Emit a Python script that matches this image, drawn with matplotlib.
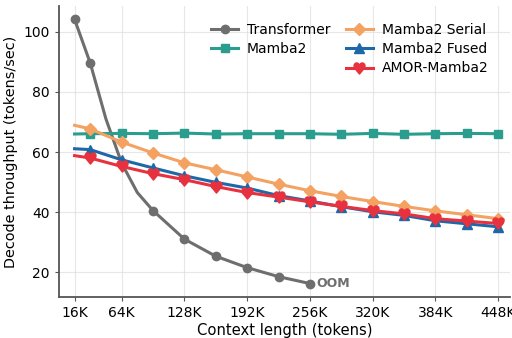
import matplotlib
matplotlib.use("Agg")
import matplotlib.pyplot as plt
from matplotlib.lines import Line2D

# context lengths in K tokens
ctx = [16, 32, 64, 96, 128, 160, 192, 224, 256, 288, 320, 352, 384, 416, 448]
ctx_tf = [16, 32, 48, 64, 80, 96, 128, 160, 192, 224, 256]

transformer = [104.2, 89.6, 71.0, 56.3, 46.5, 40.5, 31.0, 25.3, 21.5, 18.5, 16.2]
mamba2 = [66.0, 66.1, 66.2, 66.1, 66.3, 66.0, 66.1, 66.1, 66.1, 65.9, 66.2, 65.9, 66.1, 66.2, 66.1]
mamba2_serial = [68.9, 67.7, 63.3, 59.7, 56.4, 54.1, 51.7, 49.3, 47.1, 45.2, 43.5, 41.9, 40.4, 39.1, 37.8]
mamba2_fused = [61.1, 60.8, 57.4, 54.7, 52.1, 49.9, 48.0, 45.5, 43.7, 41.8, 40.1, 38.9, 37.1, 36.1, 35.1]
amor_mamba2 = [58.8, 58.0, 55.2, 52.8, 50.8, 48.5, 46.5, 45.0, 43.4, 41.9, 40.5, 39.4, 37.8, 37.0, 36.2]

xticks = [16, 64, 128, 192, 256, 320, 384, 448]
xticklabels = ["16K", "64K", "128K", "192K", "256K", "320K", "384K", "448K"]

fig = plt.figure(figsize=(5.12, 3.38), dpi=100)
ax = fig.add_axes([0.115, 0.122, 0.881, 0.86])

lw = 2.2
ax.plot(ctx_tf, transformer, color="#6e6e6e", lw=lw, marker="o", ms=6,
        markevery=[0, 1, 3, 5, 6, 7, 8, 9, 10], label="Transformer", zorder=3)
ax.plot(ctx, mamba2, color="#2a9d8f", lw=lw, marker="s", ms=6,
        markevery=slice(1, None), label="Mamba2", zorder=3)
ax.plot(ctx, mamba2_serial, color="#f4a261", lw=lw, marker="D", ms=6,
        markevery=slice(1, None), label="Mamba2 Serial", zorder=3)
ax.plot(ctx, mamba2_fused, color="#1f68a8", lw=lw, marker="^", ms=7,
        markevery=slice(1, None), label="Mamba2 Fused", zorder=4)
ax.plot(ctx, amor_mamba2, color="#e8313f", lw=lw, marker="$\u2665$", ms=8,
        markevery=slice(1, None), label="AMOR-Mamba2", zorder=5)

ax.text(ctx_tf[-1] + 7, transformer[-1], "OOM", color="#6e6e6e",
        fontsize=9, fontweight="bold", va="center", ha="left")

ax.set_xlim(0, 460)
ax.set_xticks(xticks)
ax.set_xticklabels(xticklabels)
ax.set_yticks([20, 40, 60, 80, 100])
ax.tick_params(labelsize=10, length=3, color="#555555")
ax.set_xlabel("Context length (tokens)", fontsize=10.6, labelpad=2)
ax.set_ylabel("Decode throughput (tokens/sec)", fontsize=10.4)
ax.grid(True, color="#dddddd", lw=0.8, alpha=0.7)
ax.set_axisbelow(True)
for s in ["top", "right"]:
    ax.spines[s].set_visible(False)
for s in ["left", "bottom"]:
    ax.spines[s].set_color("#555555")
    ax.spines[s].set_linewidth(1.3)

handles, labels = ax.get_legend_handles_labels()
blank = Line2D([], [], color="none")
handles = handles[:2] + [blank] + handles[2:]
labels = labels[:2] + [" "] + labels[2:]
ax.legend(handles, labels, ncol=2, frameon=False, loc="upper right",
          fontsize=10, bbox_to_anchor=(0.98, 0.985), columnspacing=1.1,
          handletextpad=0.6, labelspacing=0.38)

fig.savefig("out.png", dpi=100)
